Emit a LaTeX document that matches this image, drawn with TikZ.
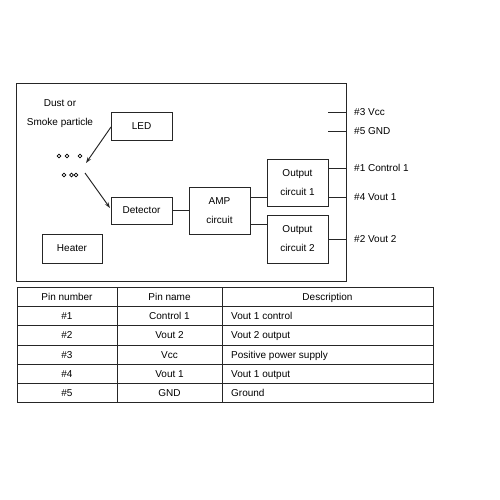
\documentclass[tikz,border=0pt]{standalone}
\usepackage{fontspec}
\setmainfont{Liberation Sans}
\usetikzlibrary{arrows.meta}
\tikzset{
  ln/.style={draw=black!85, line width=0.95pt},
  blk/.style={ln, minimum width=61pt, inner sep=0pt, align=center, font=\fontsize{10}{19}\selectfont},
  lbl/.style={inner sep=0pt, anchor=west, text height=7.2pt, text depth=0pt, font=\fontsize{10}{12}\selectfont},
  cell/.style={inner sep=0pt, text height=7.2pt, text depth=0pt, font=\fontsize{10}{12}\selectfont},
  dot/.style={draw=black, line width=0.6pt, circle, minimum size=3.8pt, inner sep=0pt},
  arr/.style={ln, -{Stealth[length=6pt,width=4pt]}}
}
\begin{document}
\begin{tikzpicture}[x=1pt,y=-1pt]
\useasboundingbox[fill=white] (0,0) rectangle (500,500);
% outer frame
\node[ln, minimum width=330pt, minimum height=198pt, inner sep=0pt] (frame) at (181,182) {};
% blocks
\node[blk, minimum height=28pt] (led) at (141.5,126) {LED};
\node[blk, minimum height=27pt] (det) at (141.5,210.5) {Detector};
\node[blk, minimum height=47pt] (amp) at (219.5,210.5) {AMP\\circuit};
\node[blk, minimum width=60pt, minimum height=29pt] (heat) at (72,248.5) {Heater};
\node[blk, minimum height=47pt] (oc1) at (297.5,182.5) {Output\\circuit 1};
\node[blk, minimum height=48pt] (oc2) at (297.5,239) {Output\\circuit 2};
\node[inner sep=0pt, align=center, font=\fontsize{10}{19}\selectfont] (dust) at (60,113.5) {Dust or\\Smoke particle};
% particles
\node[dot] (p1) at (59,156) {};
\node[dot] (p2) at (67,156) {};
\node[dot] (p3) at (80,156) {};
\node[dot] (p4) at (64,175) {};
\node[dot] (p5) at (71.5,175) {};
\node[dot] (p6) at (76,175) {};
% arrows
\coordinate (a1s) at (111,127);
\coordinate (a1e) at (86,163);
\coordinate (a2s) at (85,173);
\coordinate (a2e) at (110,208);
\draw[arr] (a1s) -- (a1e);
\draw[arr] (a2s) -- (a2e);
% connections
\draw[ln] (det.east) -- (amp.west);
\draw[ln] (amp.east |- 0,197) -- (oc1.west |- 0,197);
\draw[ln] (amp.east |- 0,224) -- (oc2.west |- 0,224);
% pins
\coordinate (s3) at (328,112);
\coordinate (s5) at (328,131);
\draw[ln] (s3) -- (frame.east |- s3);
\draw[ln] (s5) -- (frame.east |- s5);
\draw[ln] (oc1.east |- 0,168) -- (frame.east |- 0,168);
\draw[ln] (oc1.east |- 0,197) -- (frame.east |- 0,197);
\draw[ln] (oc2.east) -- (frame.east |- oc2.east);
\node[lbl] (l3) at (354,112) {\#3 Vcc};
\node[lbl] (l5) at (354,131) {\#5 GND};
\node[lbl] (l1) at (354,168) {\#1 Control 1};
\node[lbl] (l4) at (354,197) {\#4 Vout 1};
\node[lbl] (l2) at (354,239) {\#2 Vout 2};
% table
\draw[ln] (17,287) rectangle (433,402);
\foreach \y in {306,325,345,364,383} \draw[ln] (17,\y) -- (433,\y);
\draw[ln] (117,287) -- (117,402);
\draw[ln] (222,287) -- (222,402);
\node[cell] (h1) at (67,296.5) {Pin number};
\node[cell] (h2) at (169.5,296.5) {Pin name};
\node[cell] (h3) at (327.5,296.5) {Description};
\node[cell] (n1) at (67,315.5) {\#1};
\node[cell] (n2) at (67,335) {\#2};
\node[cell] (n3) at (67,354.5) {\#3};
\node[cell] (n4) at (67,373.5) {\#4};
\node[cell] (n5) at (67,392.5) {\#5};
\node[cell] (m1) at (169.5,315.5) {Control 1};
\node[cell] (m2) at (169.5,335) {Vout 2};
\node[cell] (m3) at (169.5,354.5) {Vcc};
\node[cell] (m4) at (169.5,373.5) {Vout 1};
\node[cell] (m5) at (169.5,392.5) {GND};
\node[cell, anchor=west] (d1) at (231,315.5) {Vout 1 control};
\node[cell, anchor=west] (d2) at (231,335) {Vout 2 output};
\node[cell, anchor=west] (d3) at (231,354.5) {Positive power supply};
\node[cell, anchor=west] (d4) at (231,373.5) {Vout 1 output};
\node[cell, anchor=west] (d5) at (231,392.5) {Ground};
\end{tikzpicture}
\end{document}
